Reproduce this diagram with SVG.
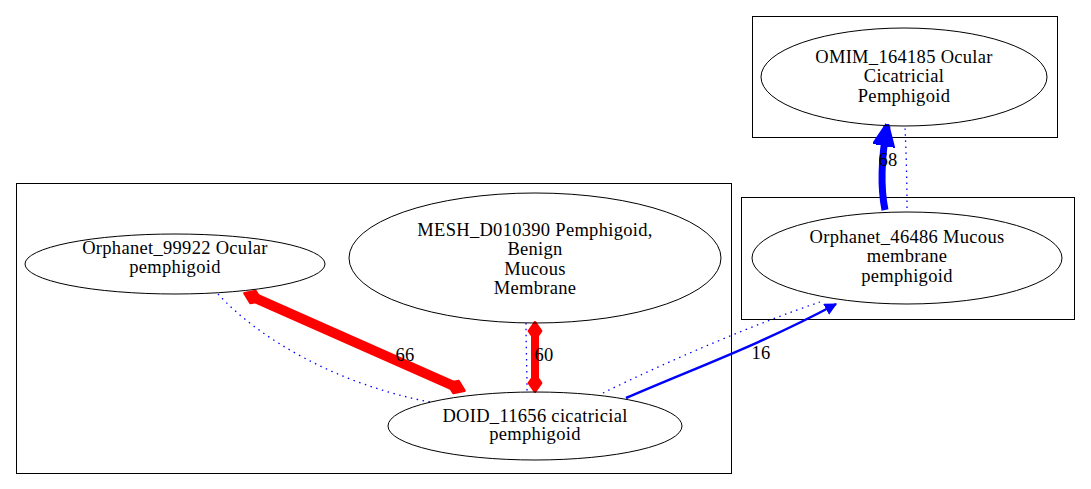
<svg xmlns="http://www.w3.org/2000/svg" width="1091" height="489" viewBox="0 0 1091 489">
<style>
text{font-family:'Liberation Serif','DejaVu Serif',serif;font-size:18.5px;letter-spacing:0.3px;fill:#000;text-anchor:middle}
.cl{fill:none;stroke:#000;stroke-width:1}
.nd{fill:none;stroke:#000;stroke-width:1}
.dot{fill:none;stroke:#0000ff;stroke-width:1.3;stroke-dasharray:1.5 4.5}
</style>
<defs>
<marker id="dia" viewBox="-6 -6 12 12" markerWidth="2.2" markerHeight="2.2" refX="0" refY="0" orient="auto" markerUnits="strokeWidth">
<path d="M-5,0 L0,-3.5 L5,0 L0,3.5 Z" fill="#ff0000" stroke="#ff0000" stroke-width="1.5" stroke-linejoin="round"/>
</marker>
<marker id="dia2" viewBox="-6 -6 12 12" markerWidth="2.6" markerHeight="2.6" refX="0" refY="0" orient="auto" markerUnits="strokeWidth">
<path d="M-5,0 L0,-3.5 L5,0 L0,3.5 Z" fill="#ff0000" stroke="#ff0000" stroke-width="1.5" stroke-linejoin="round"/>
</marker>
<marker id="arr" viewBox="0 0 10 10" markerWidth="5" markerHeight="5" refX="9" refY="5" orient="auto" markerUnits="strokeWidth">
<path d="M0,0 L10,5 L0,10 Z" fill="#0000ff"/>
</marker>
<marker id="arr2" viewBox="0 0 10 10" markerWidth="3.2" markerHeight="3.2" refX="9" refY="5" orient="auto" markerUnits="strokeWidth">
<path d="M0,0.5 L10,5 L0,9.5 Z" fill="#0000ff" stroke="#0000ff" stroke-width="1.5" stroke-linejoin="round"/>
</marker>
</defs>
<rect width="1091" height="489" fill="#fff"/>
<g id="clusters">
<rect class="cl" x="16.5" y="183.5" width="715" height="290"/>
<rect class="cl" x="752.5" y="16.5" width="305" height="121"/>
<rect class="cl" x="741.5" y="197.5" width="333" height="122"/>
</g>
<g id="connectors">
<path class="dot" d="M218,294 C260,340 340,385 430,402"/>
<path d="M253,297 L456,387" stroke="#ff0000" stroke-width="10" fill="none" marker-start="url(#dia)" marker-end="url(#dia)"/>
<text x="405" y="361">66</text>
<path class="dot" d="M526,323 C526,345 527,370 527,391"/>
<path d="M535,331 L535,383" stroke="#ff0000" stroke-width="8" fill="none" marker-start="url(#dia2)" marker-end="url(#dia2)"/>
<text x="544" y="361">60</text>
<path class="dot" d="M603,393 C670,360 760,322 820,302"/>
<path d="M626,398 C690,370 760,345 836,304" stroke="#0000ff" stroke-width="2.5" fill="none" marker-end="url(#arr)"/>
<text x="761" y="359">16</text>
<path class="dot" d="M907,208 C907,180 906,150 905,126"/>
<path d="M885,210 C881,190 881,160 887,126" stroke="#0000ff" stroke-width="7" fill="none" marker-end="url(#arr2)"/>
<text x="888" y="166">68</text>
</g>
<g id="n_orphanet_99922">
<ellipse class="nd" cx="175" cy="264" rx="150" ry="30"/>
<text x="175" y="254">Orphanet_99922 Ocular</text>
<text x="175" y="273">pemphigoid</text>
</g>
<g id="n_mesh_d010390">
<ellipse class="nd" cx="535" cy="258" rx="186" ry="65"/>
<text x="535" y="236">MESH_D010390 Pemphigoid,</text>
<text x="535" y="255">Benign</text>
<text x="535" y="275">Mucous</text>
<text x="535" y="294">Membrane</text>
</g>
<g id="n_doid_11656">
<ellipse class="nd" cx="535" cy="426" rx="147" ry="34"/>
<text x="535" y="422">DOID_11656 cicatricial</text>
<text x="535" y="440">pemphigoid</text>
</g>
<g id="n_orphanet_46486">
<ellipse class="nd" cx="907" cy="258" rx="155" ry="46"/>
<text x="907" y="243">Orphanet_46486 Mucous</text>
<text x="907" y="262">membrane</text>
<text x="907" y="282">pemphigoid</text>
</g>
<g id="n_omim_164185">
<ellipse class="nd" cx="904" cy="77" rx="143" ry="49"/>
<text x="904" y="63">OMIM_164185 Ocular</text>
<text x="904" y="82">Cicatricial</text>
<text x="904" y="102">Pemphigoid</text>
</g>
</svg>
